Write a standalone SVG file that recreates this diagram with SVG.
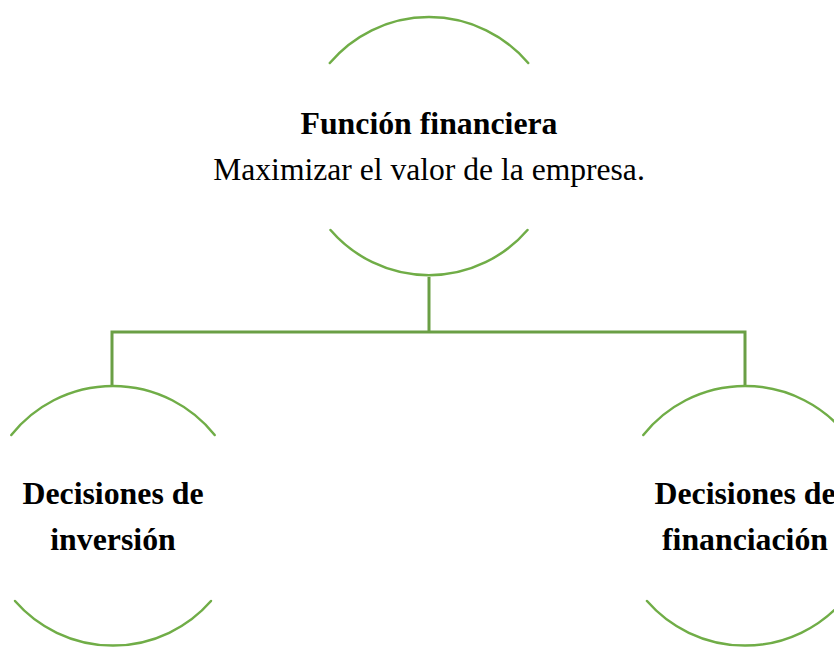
<svg xmlns="http://www.w3.org/2000/svg" width="834" height="648" viewBox="0 0 834 648">
<style>
.arc{fill:none;stroke:#70AD47;stroke-width:2.5;stroke-linecap:round}
.con{fill:none;stroke:#6A9F45;stroke-width:3}
text{font-family:'Liberation Serif','DejaVu Serif',serif;fill:#000;text-anchor:middle}
.b{font-weight:bold;font-size:31.8px}
.r{font-size:31.6px}
</style>
<rect width="834" height="648" fill="#fff"/>
<g id="connectors">
<polyline class="con" points="429,277 429,332"/>
<polyline class="con" points="112,387 112,332 745,332 745,387"/>
</g>
<g id="funcion">
<path class="arc" d="M329.8,63 A130,130 0 0 1 528.2,63"/>
<path class="arc" d="M330.5,230 A130,130 0 0 0 527.5,230"/>
<text class="b" x="429" y="134">Función financiera</text>
<text class="r" x="429" y="180">Maximizar el valor de la empresa.</text>
</g>
<g id="inversion">
<path class="arc" d="M11.3,435 A130,130 0 0 1 214.7,435"/>
<path class="arc" d="M15,601 A130,130 0 0 0 211,601"/>
<text class="b" x="113" y="504">Decisiones de</text>
<text class="b" x="113" y="550">inversión</text>
</g>
<g id="financiacion">
<path class="arc" d="M643.3,435 A130,130 0 0 1 846.7,435"/>
<path class="arc" d="M647,601 A130,130 0 0 0 843,601"/>
<text class="b" x="745" y="504">Decisiones de</text>
<text class="b" x="745" y="550">financiación</text>
</g>
</svg>
